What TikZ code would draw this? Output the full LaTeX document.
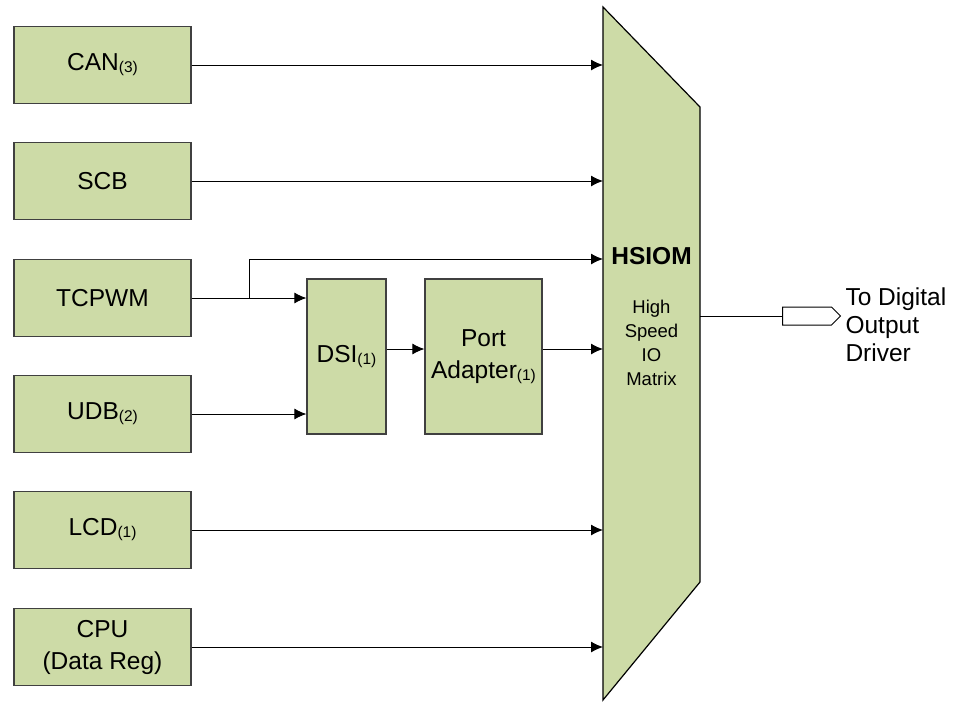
\documentclass[tikz,border=0pt]{standalone}
\usepackage{fontspec}
\setmainfont{Liberation Sans}
\usetikzlibrary{arrows.meta,shapes.symbols}

\definecolor{blockgreen}{RGB}{205,219,167}
\newcommand{\idx}[1]{\raisebox{-2pt}{\fontsize{15.5}{15.5}\selectfont(#1)}}

\tikzset{
	block/.style={draw=black!75, fill=blockgreen, line width=1.2pt,
		minimum width=177pt, minimum height=77pt, align=center,
		font=\fontsize{24.5}{32}\selectfont},
	sig/.style={line width=1pt, -{Latex[length=12pt,width=11pt]}}
}

\begin{document}
\begin{tikzpicture}[x=1pt, y=-1pt]
		\useasboundingbox (0,0) rectangle (954,702);
		% source blocks on the left
		\foreach \name/\y/\txt in {can/65/CAN\idx{3}, scb/181/SCB, tcpwm/298/TCPWM,
				udb/414/UDB\idx{2}, lcd/530/LCD\idx{1}, cpu/647/CPU\\(Data Reg)}
			\node [block] (\name) at (102.5,\y) {\txt};
		\node [block, minimum width=79pt, minimum height=155pt] (dsi) at (346.5,356.5) {DSI\idx{1}};
		\node [block, minimum width=117pt, minimum height=155pt] (port) at (483.5,356.5) {Port\\Adapter\idx{1}};

		% HSIOM
		\draw [draw=black, fill=blockgreen, line width=1.2pt] (603,7) -- (700,107) -- (700,582) -- (603,700) -- cycle;
		\coordinate (hl) at (603,0);
		\coordinate (hr) at (700,316);
		\node [font=\fontsize{24.5}{28}\selectfont\bfseries] (hsiom) at (651.5,256) {HSIOM};
		\node [align=center, font=\fontsize{18.5}{24}\selectfont] (hsiomtxt) at (651.5,343) {High\\Speed\\IO\\Matrix};

		\draw [sig] (can) -- (can -| hl);
		\draw [sig] (scb) -- (scb -| hl);
		\draw [sig] (tcpwm.east) -- (tcpwm -| dsi.west);
		\coordinate (br) at (249,298);
		\draw [sig] (br) -- (249,259) -- (hl |- 0,259);
		\draw [sig] (udb) -- (udb -| dsi.west);
		\draw [sig] (dsi.east |- 0,349) -- (port.west |- 0,349);
		\draw [sig] (port.east |- 0,349) -- (hl |- 0,349);
		\draw [sig] (lcd) -- (lcd -| hl);
		\draw [sig] (cpu) -- (cpu -| hl);

		% output
		\node [signal, signal to=east, draw=black, line width=1pt, minimum width=58pt,
			minimum height=18pt, inner sep=0pt] (outdrv) at (807,316) {};
		\draw [line width=1pt] (hr) -- (outdrv.west);
		\node [anchor=west, align=left, font=\fontsize{24.5}{28}\selectfont] (drvtxt) at (842,325) {To Digital\\Output\\Driver};
	\end{tikzpicture}
\end{document}
